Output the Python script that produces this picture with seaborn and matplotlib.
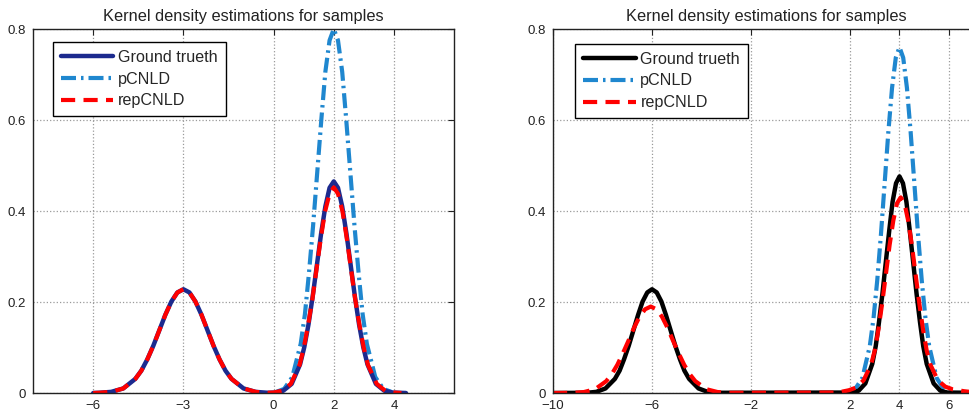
import seaborn as sns
import numpy as np
from matplotlib import pyplot as plt

# ---- data (density vs x) ----
left_gt_x = [-6.0, -5.8, -5.4, -5.0, -4.6, -4.4, -4.2, -4.0, -3.8, -3.6, -3.4, -3.2, -3.0,
             -2.8, -2.6, -2.4, -2.2, -2.0, -1.8, -1.6, -1.4, -1.0, -0.6, -0.2,
             0.04, 0.32, 0.60, 0.88, 1.02, 1.16, 1.30, 1.44, 1.58, 1.72, 1.86, 2.00,
             2.14, 2.28, 2.42, 2.56, 2.70, 2.84, 2.98, 3.12, 3.40, 3.68, 3.96, 4.40]
left_gt_y = [0.0, .0005, .0025, .010, .031, .049, .074, .104, .138, .172, .201, .221, .228,
             .221, .201, .172, .138, .104, .074, .049, .031, .010, .0025, .0005,
             .001, .005, .020, .063, .101, .151, .213, .282, .351, .410, .451, .465,
             .451, .410, .351, .282, .213, .151, .101, .063, .020, .005, .001, 0.0]

left_pc_x = [0.07, 0.35, 0.62, 0.90, 1.04, 1.17, 1.31, 1.45, 1.59, 1.72, 1.86, 2.00,
             2.14, 2.28, 2.41, 2.55, 2.69, 2.83, 2.96, 3.10, 3.38, 3.65, 3.93]
left_pc_y = [.002, .009, .035, .108, .173, .260, .366, .485, .604, .706, .775, .800,
             .775, .706, .604, .485, .366, .260, .173, .108, .035, .009, .002]

left_rep_x = [-6.0, -5.8, -5.4, -5.0, -4.6, -4.4, -4.2, -4.0, -3.8, -3.6, -3.4, -3.2, -3.0,
              -2.8, -2.6, -2.4, -2.2, -2.0, -1.8, -1.6, -1.4, -1.0, -0.6, -0.2,
              0.00, 0.29, 0.57, 0.86, 1.00, 1.14, 1.29, 1.43, 1.57, 1.71, 1.86, 2.00,
              2.14, 2.29, 2.43, 2.57, 2.71, 2.86, 3.00, 3.14, 3.43, 3.71, 4.00, 4.25]
left_rep_y = [0.0, .0005, .0025, .010, .031, .049, .074, .104, .138, .172, .201, .221, .228,
              .221, .201, .172, .138, .104, .074, .049, .031, .010, .0025, .0005,
              .001, .005, .020, .061, .098, .147, .207, .274, .341, .399, .438, .452,
              .438, .399, .341, .274, .207, .147, .098, .061, .020, .005, .001, 0.0]

right_gt_x = [-10.0, -8.63, -8.25, -7.88, -7.50, -7.31, -7.13, -6.94, -6.75, -6.56, -6.38, -6.19, -6.00,
              -5.81, -5.62, -5.44, -5.25, -5.06, -4.87, -4.69, -4.50, -4.12, -3.75, -3.37,
              2.07, 2.35, 2.62, 2.90, 3.04, 3.17, 3.31, 3.45, 3.59, 3.72, 3.86, 4.00,
              4.14, 4.28, 4.41, 4.55, 4.69, 4.83, 4.96, 5.10, 5.38, 5.65, 5.93, 8.0]
right_gt_y = [0.0, .0005, .0025, .010, .031, .049, .074, .104, .138, .172, .201, .221, .228,
              .221, .201, .172, .138, .104, .074, .049, .031, .010, .0025, .0005,
              .001, .005, .021, .064, .103, .155, .218, .289, .359, .420, .461, .476,
              .461, .420, .359, .289, .218, .155, .103, .064, .021, .005, .001, 0.0]

right_pc_x = [1.90, 2.20, 2.50, 2.80, 2.95, 3.10, 3.25, 3.40, 3.55, 3.70, 3.85, 4.00,
              4.15, 4.30, 4.45, 4.60, 4.75, 4.90, 5.05, 5.20, 5.50, 5.80, 6.10]
right_pc_y = [.002, .008, .033, .103, .164, .247, .348, .461, .574, .671, .737, .760,
              .737, .671, .574, .461, .348, .247, .164, .103, .033, .008, .002]

right_rep_x = [-10.0, -9.20, -8.75, -8.30, -7.85, -7.63, -7.40, -7.18, -6.95, -6.73, -6.50, -6.28, -6.05,
               -5.82, -5.60, -5.37, -5.15, -4.92, -4.70, -4.47, -4.25, -3.80, -3.35, -2.90,
               1.50, 1.95, 2.25, 2.55, 2.85, 3.00, 3.15, 3.30, 3.45, 3.60, 3.75, 3.90, 4.05,
               4.20, 4.35, 4.50, 4.65, 4.80, 4.95, 5.10, 5.25, 5.55, 5.85, 6.15, 6.60, 7.10, 8.0]
right_rep_y = [0.0, .0004, .0021, .0083, .026, .041, .062, .087, .115, .143, .168, .184, .190,
               .184, .168, .143, .115, .087, .062, .041, .026, .0083, .0021, .0004,
               .001, .006, .012, .028, .062, .093, .140, .197, .261, .325, .379, .417, .430,
               .417, .379, .325, .261, .197, .140, .093, .062, .028, .014, .008, .004, .001, 0.0]

labels = ['Ground trueth', 'pCNLD', 'repCNLD']
title = 'Kernel density estimations for samples'
y_ticks = [0, 0.2, 0.4, 0.6, 0.8]
y_tick_labels = ['0', '0.2', '0.4', '0.6', '0.8']
left_x_ticks = [-6, -3, 0, 2, 4]
right_x_ticks = [-10, -6, -2, 2, 4, 6]

sns.set_style('white')
plt.rcParams['font.family'] = ['Liberation Sans', 'DejaVu Sans']

fig = plt.figure(figsize=(9.69, 4.18), dpi=100)
ax_left = fig.add_axes([0.0341, 0.0598, 0.4345, 0.8708])
ax_right = fig.add_axes([0.5707, 0.0598, 0.4393, 0.8708])

panels = [
    (ax_left, (left_gt_x, left_gt_y), (left_pc_x, left_pc_y), (left_rep_x, left_rep_y),
     '#1c2a8e', (-8, 6), left_x_ticks, (0.047, 0.965)),
    (ax_right, (right_gt_x, right_gt_y), (right_pc_x, right_pc_y), (right_rep_x, right_rep_y),
     'black', (-10, 7.2), right_x_ticks, (0.052, 0.96)),
]

pc_dashes = (3.6, 1.2, 0.6, 1.2)
rep_dashes = (3.4, 2.0)

for ax, gt, pc, rep, gt_color, xlim, xticks, legend_pos in panels:
    # pCNLD underneath, ground truth over it, repCNLD on top
    sns.lineplot(x=pc[0], y=pc[1], ax=ax, color='#1f87cf', lw=3.0, legend=False)
    sns.lineplot(x=gt[0], y=gt[1], ax=ax, color=gt_color, lw=3.2, legend=False)
    sns.lineplot(x=rep[0], y=rep[1], ax=ax, color='#ff0000', lw=3.0, legend=False)
    pc_line, gt_line, rep_line = ax.get_lines()
    pc_line.set_dashes(pc_dashes)
    rep_line.set_dashes(rep_dashes)

    ax.set_xlim(*xlim)
    ax.set_ylim(0, 0.8)
    ax.set_xticks(xticks)
    ax.set_xticklabels([str(t).replace('-', '\u2212') for t in xticks])
    ax.set_yticks(y_ticks)
    ax.set_yticklabels(y_tick_labels)
    ax.set_xlabel('')
    ax.set_ylabel('')
    ax.grid(True, linestyle=':', color='#9a9a9a', lw=0.9)
    ax.tick_params(direction='in', top=True, right=True, length=4, width=0.8,
                   labelsize=9.5, colors='#222222', pad=5)
    for spine in ax.spines.values():
        spine.set_visible(True)
        spine.set_color('#222222')
        spine.set_linewidth(1.0)
    ax.set_title(title, fontsize=11.8, color='#222222', pad=6)

    legend = ax.legend([gt_line, pc_line, rep_line], labels,
                       loc='upper left', bbox_to_anchor=legend_pos, borderaxespad=0,
                       fontsize=11.6, handlelength=3.25, handletextpad=0.3, borderpad=0.5,
                       labelspacing=0.42, fancybox=False, framealpha=1, edgecolor='black')
    legend.get_frame().set_linewidth(1.0)

fig.savefig('out.png', dpi=100)
